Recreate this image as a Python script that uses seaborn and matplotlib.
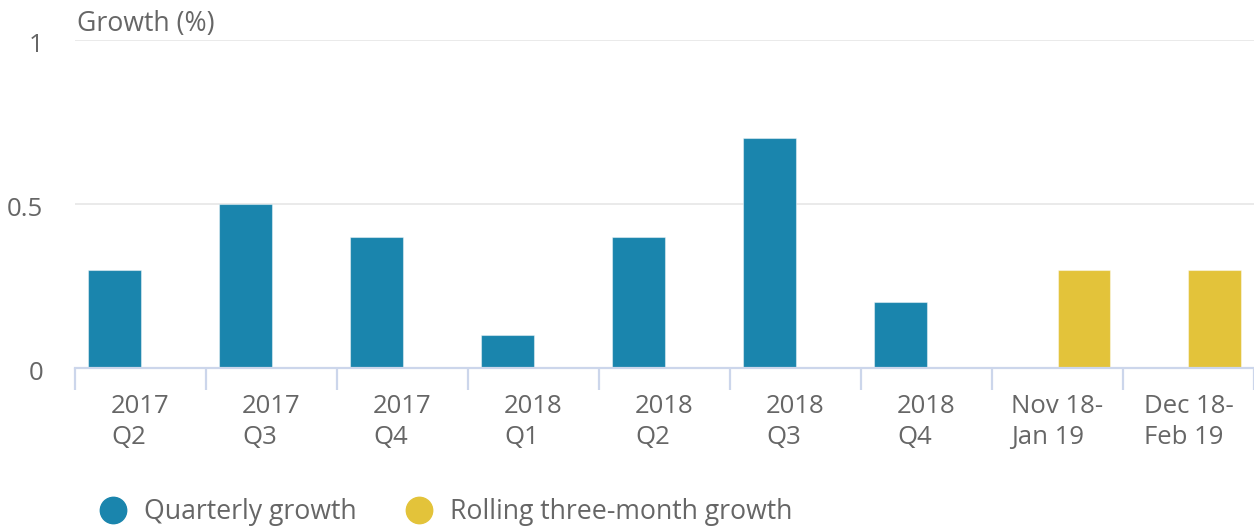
import matplotlib
matplotlib.use("Agg")
import matplotlib.pyplot as plt
from matplotlib.lines import Line2D
from matplotlib.transforms import ScaledTranslation
import seaborn as sns
import pandas as pd

categories = ["2017\nQ2", "2017\nQ3", "2017\nQ4", "2018\nQ1", "2018\nQ2",
              "2018\nQ3", "2018\nQ4", "Nov 18-\nJan 19", "Dec 18-\nFeb 19"]
quarterly = [0.3, 0.5, 0.4, 0.1, 0.4, 0.7, 0.2, None, None]
rolling = [None, None, None, None, None, None, None, 0.3, 0.3]
series_names = ["Quarterly growth", "Rolling three-month growth"]
colors = ["#1a85ad", "#e3c33a"]
yticks = [0, 0.5, 1]
ytick_labels = ["0", "0.5", "1"]

rows = []
for c, q, r in zip(categories, quarterly, rolling):
    rows.append({"cat": c, "series": series_names[0], "value": q})
    rows.append({"cat": c, "series": series_names[1], "value": r})
df = pd.DataFrame(rows)

sns.set_style("white")
plt.rcParams["font.family"] = ["Open Sans", "DejaVu Sans"]
txt = "#666666"

fig = plt.figure(figsize=(12.54, 5.27), dpi=100)
ax = fig.add_axes([75/1254, 1-368/527, 1-75/1254, 328/527])

sns.barplot(data=df, x="cat", y="value", hue="series", order=categories,
            hue_order=series_names, palette=colors, width=0.8, saturation=1,
            ax=ax, legend=False, edgecolor=(1, 1, 1, 0.45), linewidth=0.8)

ax.set_ylim(0, 1)
ax.set_xlim(-0.5, len(categories) - 0.5)
ax.set_yticks(yticks)
ax.set_yticklabels(ytick_labels)
ax.set_xlabel("")
ax.set_ylabel("")
ax.grid(axis="y", color="#e6e6e6", linewidth=1.2)
ax.grid(axis="x", visible=False)
ax.set_axisbelow(True)
for s in ["top", "right", "left"]:
    ax.spines[s].set_visible(False)
ax.spines["bottom"].set_color("#ccd6eb")
ax.spines["bottom"].set_linewidth(1.6)
ax.spines["bottom"].set_zorder(5)

ax.tick_params(axis="y", length=0, pad=23, labelsize=18.5, labelcolor=txt)
ax.tick_params(axis="x", which="major", bottom=False, length=0, pad=19,
               labelsize=18.5, labelcolor=txt)
ax.set_xticks([i - 0.5 for i in range(len(categories) + 1)], minor=True)
ax.tick_params(axis="x", which="minor", bottom=True, length=16, width=1.6,
               color="#ccd6eb", direction="out")
for lab in ax.get_xticklabels():
    lab.set_linespacing(1.3)
    lab.set_multialignment("left")
off = ScaledTranslation(0, -3/100, fig.dpi_scale_trans)
for lab in ax.get_yticklabels():
    lab.set_transform(lab.get_transform() + off)

fig.text(77/1254, 1-24/527, "Growth (%)", fontsize=19.2, color=txt, ha="left", va="center")

handles = [Line2D([], [], linestyle="none", marker="o", markersize=19,
                  markerfacecolor=c, markeredgecolor=c) for c in colors]
fig.legend(handles, series_names, loc="center left", ncol=2,
           bbox_to_anchor=(97/1254, 1-512/527), frameon=False,
           fontsize=19.2, labelcolor=txt, handletextpad=0.55, columnspacing=1.75,
           handlelength=1.2, borderpad=0, borderaxespad=0)

fig.savefig("out.png", dpi=100)
